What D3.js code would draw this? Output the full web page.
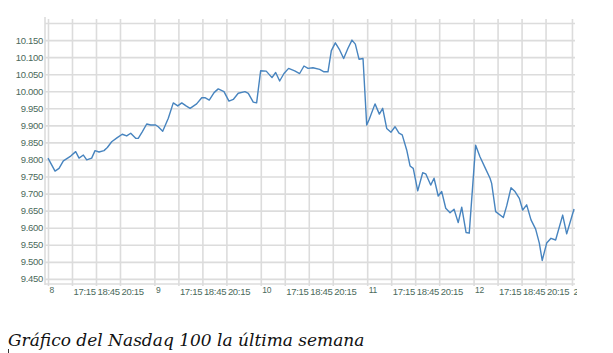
<!DOCTYPE html>
<html>
<head>
<meta charset="utf-8">
<script src="https://cdn.jsdelivr.net/npm/d3@7"></script>
<style>
  html, body { margin: 0; padding: 0; background: #ffffff; }
  svg { display: block; }
</style>
</head>
<body>
<div class="chart"></div>
<script>
/* Nasdaq 100, 15 min closes, session hours counted from day 8 15:45.
 * One session is drawn 6.65 h wide on the axis. */
var SESSION = 6.65;

var dayLabels = ["8", "9", "10", "11", "12"];
var timeLabels = ["17:15", "18:45", "20:15"];
var lastLabel = "21:45";

var hours = [
  0, 0.44, 0.69, 0.96, 1.42, 1.73, 1.94, 2.21, 2.42, 2.73, 2.94, 3.19, 3.5,
  3.71, 3.98, 4.33, 4.64, 4.92, 5.17, 5.48, 5.64, 5.89, 6.17, 6.42, 6.73,
  6.89, 7.17, 7.52, 7.83, 8.11, 8.36, 8.63, 8.88, 9.29, 9.61, 9.81, 10.08,
  10.38, 10.64, 11, 11.31, 11.58, 11.89, 12.31, 12.52, 12.83, 13.04, 13.29,
  13.64, 14, 14.23, 14.48, 14.75, 15.04, 15.42, 15.73, 16, 16.25, 16.56,
  16.98, 17.25, 17.5, 17.71, 17.96, 18.23, 18.48, 18.75, 19, 19.21, 19.44,
  19.69, 19.92, 20.08, 20.44, 20.71, 20.92, 21.17, 21.44, 21.69, 21.94,
  22.14, 22.42, 22.63, 22.83, 23.11, 23.42, 23.61, 23.92, 24.13, 24.39,
  24.61, 24.86, 25.13, 25.38, 25.64, 25.86, 26.13, 26.33, 26.73, 27, 27.31,
  27.63, 27.73, 27.98, 28.46, 28.67, 28.94, 29.19, 29.46, 29.67, 29.92,
  30.19, 30.48, 30.71, 30.89, 31.17, 31.44, 31.73, 32.17, 32.42, 32.88
];

var prices = [
  9804, 9766, 9774, 9796, 9810, 9823, 9804, 9813, 9799, 9804, 9826, 9822,
  9826, 9835, 9852, 9864, 9874, 9869, 9877, 9862, 9862, 9881, 9904, 9901,
  9901, 9896, 9883, 9921, 9966, 9957, 9966, 9957, 9950, 9963, 9981, 9981,
  9974, 9996, 10007, 9999, 9971, 9976, 9994, 9999, 9994, 9968, 9966, 10060,
  10059, 10040, 10055, 10030, 10052, 10067, 10060, 10052, 10074, 10067,
  10069, 10064, 10057, 10057, 10119, 10142, 10121, 10096, 10126, 10150,
  10138, 10094, 10096, 9901, 9918, 9963, 9933, 9950, 9891, 9880, 9896,
  9877, 9872, 9828, 9781, 9774, 9708, 9761, 9758, 9725, 9745, 9693, 9706,
  9657, 9644, 9654, 9615, 9660, 9586, 9584, 9842, 9808, 9777, 9745, 9730,
  9647, 9630, 9664, 9717, 9706, 9686, 9652, 9667, 9623, 9596, 9555, 9504,
  9555, 9569, 9564, 9637, 9582, 9655
];

var yTicks = d3.range(9450, 10201, 50);

var WIDTH = 613;
var HEIGHT = 353;
var LEFT = 45, RIGHT = 575, TOP = 17, BOTTOM = 284;
var GRID = "#dcdcdc";
var TEXT = "#4b6a5b";

var es = d3.formatLocale({ decimal: ",", thousands: ".", grouping: [3], currency: ["", "€"] });
var fmt = es.format(",.0f");

var svg = d3.select("div.chart")
            .append("svg")
            .attr("width", WIDTH)
            .attr("height", HEIGHT);

/* the chart image is cropped just right of the plot */
svg.append("clipPath")
   .attr("id", "crop")
   .append("rect")
   .attr("x", 0).attr("y", 0).attr("width", 577).attr("height", 310);

var chart = svg.append("g").attr("clip-path", "url(#crop)");

var x = d3.scaleLinear().domain([-0.1875, 32.94]).range([LEFT, RIGHT]);
var y = d3.scaleLinear().domain([9435, 10203]).range([BOTTOM, 22]);

/* horizontal grid + value labels */
var yAxis = d3.axisLeft(y)
              .tickValues(yTicks)
              .tickSize(-(RIGHT - LEFT))
              .tickPadding(2)
              .tickFormat(function (d) { return d === 10200 ? "" : fmt(d); });

var gy = chart.append("g")
              .attr("transform", "translate(" + LEFT + ",0)")
              .call(yAxis);
gy.select(".domain").remove();
gy.selectAll("line").attr("stroke", GRID).attr("stroke-width", 1.6);
gy.selectAll("text")
  .attr("fill", TEXT)
  .style("font-family", "'Liberation Sans', Arial, sans-serif")
  .style("font-size", "9.5px")
  .style("letter-spacing", "-0.3px");

/* vertical grid: day starts and every 1.5 h */
var xTicks = [];
var xNames = [];
dayLabels.forEach(function (day, i) {
  xTicks.push(i * SESSION);
  xNames.push(day);
  timeLabels.forEach(function (t, j) {
    xTicks.push(i * SESSION + 1.5 * (j + 1));
    xNames.push(t);
  });
});
xTicks.push((dayLabels.length - 1) * SESSION + 6.15);
xNames.push(lastLabel);

function isDay(i) {
  return dayLabels.indexOf(xNames[i]) >= 0;
}

var xAxis = d3.axisBottom(x)
              .tickValues(xTicks)
              .tickSize(-(BOTTOM - TOP))
              .tickFormat(function (d, i) { return xNames[i]; });

var gx = chart.append("g")
              .attr("transform", "translate(0," + BOTTOM + ")")
              .call(xAxis);
gx.select(".domain").remove();
gx.selectAll("line")
  .attr("stroke", GRID)
  .attr("stroke-width", 1.6)
  .attr("y1", 2)
  .attr("y2", 2 - (BOTTOM - TOP));
gx.selectAll("text")
  .attr("fill", TEXT)
  .attr("text-anchor", "start")
  .attr("x", 1)
  .attr("dy", null)
  .attr("y", function (d, i) { return isDay(i) ? 8.5 : 11; })
  .style("font-family", "'Liberation Sans', Arial, sans-serif")
  .style("font-size", function (d, i) { return isDay(i) ? "8.5px" : "9.5px"; })
  .style("letter-spacing", "-0.3px");

/* frame: left and bottom axis lines */
chart.append("line")
     .attr("x1", LEFT).attr("x2", LEFT).attr("y1", TOP).attr("y2", BOTTOM + 1)
     .attr("stroke", GRID).attr("stroke-width", 1.6);
chart.append("line")
     .attr("x1", LEFT).attr("x2", RIGHT).attr("y1", BOTTOM).attr("y2", BOTTOM)
     .attr("stroke", GRID).attr("stroke-width", 1.6);

/* price line */
var points = hours.map(function (h, i) { return [h, prices[i]]; });
var line = d3.line()
             .x(function (d) { return x(d[0]); })
             .y(function (d) { return y(d[1]); });

chart.append("path")
     .datum(points)
     .attr("fill", "none")
     .attr("stroke", "#4784bf")
     .attr("stroke-width", 1.4)
     .attr("stroke-linejoin", "round")
     .attr("d", line);

/* caption */
svg.append("text")
   .attr("x", 8)
   .attr("y", 346)
   .attr("fill", "#111111")
   .style("font-family", "'DejaVu Serif', serif")
   .style("font-style", "italic")
   .style("font-size", "17px")
   .text("Gráfico del Nasdaq 100 la última semana");

svg.append("line")
   .attr("x1", 8.5).attr("x2", 8.5).attr("y1", 349).attr("y2", 353)
   .attr("stroke", "#333333").attr("stroke-width", 1);
</script>
</body>
</html>
